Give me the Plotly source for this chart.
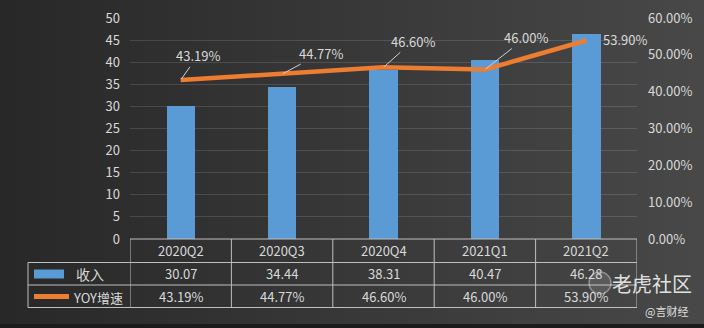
import plotly.graph_objects as go

categories = ["2020Q2", "2020Q3", "2020Q4", "2021Q1", "2021Q2"]
revenue = [30.07, 34.44, 38.31, 40.47, 46.28]
yoy = [0.4319, 0.4477, 0.4660, 0.4600, 0.5390]
left_ticks = [0, 5, 10, 15, 20, 25, 30, 35, 40, 45, 50]
right_ticks = [0, 0.1, 0.2, 0.3, 0.4, 0.5, 0.6]
series_names = ["收入", "YOY增速"]
watermark = ["老虎社区", "@言财经"]

W, H = 704, 328
L, R, T, B = 130, 67, 18, 89
PW, PH = W - L - R, H - T - B

def px(x):
    return (x - L) / PW

def py(y):
    return (H - B - y) / PH

FONT = "Noto Sans CJK SC, Noto Sans, sans-serif"
TXT = "#d9d9d9"
LINE = "#bfbfbf"
BLUE = "#5b9bd5"
ORANGE = "#ed7d31"

xs = list(range(len(categories)))

fig = go.Figure()
fig.add_trace(go.Bar(x=xs, y=revenue, width=0.28, marker=dict(color=BLUE, line=dict(width=0)),
                     name=series_names[0], yaxis="y"))
fig.add_trace(go.Scatter(x=xs, y=yoy, mode="lines", line=dict(color=ORANGE, width=4.5),
                         name=series_names[1], yaxis="y2"))

shapes = []
# background gradient
n = 88
for i in range(n):
    t = i / (n - 1)
    c0, c1 = 0x28, 0x48
    v = int(round(c0 + (c1 - c0) * t))
    col = f"rgb({v},{v},{v})"
    shapes.append(dict(type="rect", xref="paper", yref="paper", layer="below",
                       x0=px(i * W / n), x1=px((i + 1) * W / n + 0.5), y0=py(H), y1=py(0),
                       fillcolor=col, line=dict(width=0)))
shapes.append(dict(type="rect", xref="paper", yref="paper", layer="below",
                   x0=px(0), x1=px(W), y0=py(H), y1=py(324),
                   fillcolor="#1b1b1b", line=dict(width=0)))

# table lines
row_y = [239, 262.5, 285, 307.5]
def hline(x0, x1, y):
    shapes.append(dict(type="line", xref="paper", yref="paper", x0=px(x0), x1=px(x1),
                       y0=py(y), y1=py(y), line=dict(color=LINE, width=1)))
def vline(x, y0, y1, xref="paper"):
    shapes.append(dict(type="line", xref=xref, yref="paper", x0=x, x1=x,
                       y0=py(y0), y1=py(y1), line=dict(color=LINE, width=1)))
hline(L, L + PW, row_y[0])
for yy in row_y[1:]:
    hline(28, L + PW, yy)
vline(px(28), row_y[1], row_y[3])
for k in range(len(categories) + 1):
    vline(k - 0.5, row_y[0], row_y[3], xref="x")

# legend swatches
shapes.append(dict(type="rect", xref="paper", yref="paper", x0=px(34), x1=px(64),
                   y0=py(278.5), y1=py(269.5), fillcolor=BLUE, line=dict(width=0)))
shapes.append(dict(type="line", xref="paper", yref="paper", x0=px(34), x1=px(69),
                   y0=py(296.5), y1=py(296.5), line=dict(color=ORANGE, width=5)))
# watermark logo
shapes.append(dict(type="circle", xref="paper", yref="paper", x0=px(589), x1=px(611),
                   y0=py(294), y1=py(272), fillcolor="rgba(255,255,255,0.12)",
                   line=dict(color="rgba(255,255,255,0.35)", width=1.5)))

def ann(**kw):
    kw.setdefault("xanchor", "center")
    kw.setdefault("yanchor", "middle")
    annotations.append(kw)

annotations = []
for i, c in enumerate(categories):
    ann(x=i, y=py((row_y[0] + row_y[1]) / 2), xref="x", yref="paper",
        text=c, showarrow=False, font=dict(size=13, color=TXT, family=FONT))
    ann(x=i, y=py((row_y[1] + row_y[2]) / 2), xref="x", yref="paper",
        text=f"{revenue[i]:.2f}", showarrow=False, font=dict(size=13, color=TXT, family=FONT))
    ann(x=i, y=py((row_y[2] + row_y[3]) / 2), xref="x", yref="paper",
        text=f"{yoy[i]*100:.2f}%", showarrow=False, font=dict(size=13, color=TXT, family=FONT))
ann(x=px(74), y=py(274), xref="paper", yref="paper", xanchor="left",
    text=series_names[0], showarrow=False, font=dict(size=14, color=TXT, family=FONT))
ann(x=px(71), y=py(297), xref="paper", yref="paper", xanchor="left",
    text=series_names[1], showarrow=False, font=dict(size=13, color=TXT, family=FONT))

# data labels on the line
offsets = [(17, -24), (39, -21), (29, -26), (41, -32), (39, -1)]
for i, v in enumerate(yoy):
    ax, ay = offsets[i]
    if i == len(yoy) - 1:
        ann(x=i, y=v, xref="x", yref="y2", text=f"{v*100:.2f}%",
            showarrow=False, xshift=ax, yshift=-ay,
            font=dict(size=13, color=TXT, family=FONT))
    else:
        ann(x=i, y=v, xref="x", yref="y2", text=f"{v*100:.2f}%",
            showarrow=True, arrowhead=0, arrowwidth=1, arrowcolor="#d0d0d0",
            ax=ax, ay=ay, standoff=1,
            font=dict(size=13, color=TXT, family=FONT))

ann(x=px(652), y=py(283), xref="paper", yref="paper", text=watermark[0],
    showarrow=False, font=dict(size=20, color="rgba(255,255,255,0.85)", family=FONT))
ann(x=px(666), y=py(311), xref="paper", yref="paper", text=watermark[1],
    showarrow=False, font=dict(size=11, color="rgba(255,255,255,0.85)", family=FONT))

fig.update_layout(
    width=W, height=H,
    margin=dict(l=L, r=R, t=T, b=B, pad=0, autoexpand=False),
    paper_bgcolor="#2e2e2e",
    plot_bgcolor="rgba(0,0,0,0)",
    showlegend=False,
    bargap=0,
    xaxis=dict(range=[-0.5, len(categories) - 0.5], showticklabels=False, showgrid=False,
               zeroline=False, showline=False, fixedrange=True, automargin=False),
    yaxis=dict(range=[0, 50], tickvals=left_ticks, showgrid=True, gridcolor="rgba(255,255,255,0.13)",
               gridwidth=1, zeroline=False, showline=False, ticks="", ticklabelstandoff=9,
               automargin=False, tickfont=dict(size=13, color=TXT, family=FONT)),
    yaxis2=dict(range=[0, 0.6], tickvals=right_ticks, tickformat=".2%", overlaying="y", side="right",
                showgrid=False, zeroline=False, showline=False, ticks="", ticklabelstandoff=10,
                automargin=False, tickfont=dict(size=13, color=TXT, family=FONT)),
    shapes=shapes,
    annotations=annotations,
)

fig.write_html("out.html")
